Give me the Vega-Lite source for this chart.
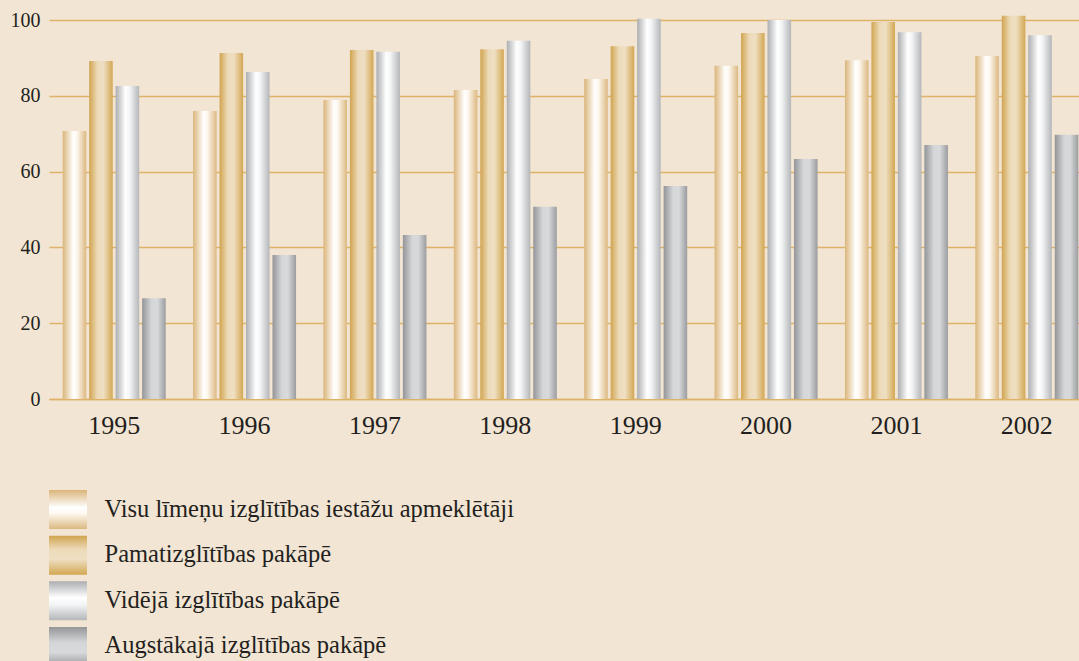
{
  "$schema": "https://vega.github.io/schema/vega-lite/v6.json",
  "background": "#f2e5d3",
  "padding": {"left": 10, "top": 10, "right": 0, "bottom": 0},
  "config": {
    "view": {"stroke": null},
    "font": "Liberation Serif",
    "axis": {"labelFont": "Liberation Serif", "labelColor": "#231f20", "titleColor": "#231f20"}
  },
  "datasets": {
    "main": [
      {"year": "1995", "series": "Visu līmeņu izglītības iestāžu apmeklētāji", "value": 70.7},
      {"year": "1995", "series": "Pamatizglītības pakāpē", "value": 89.2},
      {"year": "1995", "series": "Vidējā izglītības pakāpē", "value": 82.6},
      {"year": "1995", "series": "Augstākajā izglītības pakāpē", "value": 26.6},
      {"year": "1996", "series": "Visu līmeņu izglītības iestāžu apmeklētāji", "value": 76.0},
      {"year": "1996", "series": "Pamatizglītības pakāpē", "value": 91.3},
      {"year": "1996", "series": "Vidējā izglītības pakāpē", "value": 86.3},
      {"year": "1996", "series": "Augstākajā izglītības pakāpē", "value": 38.0},
      {"year": "1997", "series": "Visu līmeņu izglītības iestāžu apmeklētāji", "value": 78.9},
      {"year": "1997", "series": "Pamatizglītības pakāpē", "value": 92.1},
      {"year": "1997", "series": "Vidējā izglītības pakāpē", "value": 91.6},
      {"year": "1997", "series": "Augstākajā izglītības pakāpē", "value": 43.3},
      {"year": "1998", "series": "Visu līmeņu izglītības iestāžu apmeklētāji", "value": 81.5},
      {"year": "1998", "series": "Pamatizglītības pakāpē", "value": 92.3},
      {"year": "1998", "series": "Vidējā izglītības pakāpē", "value": 94.5},
      {"year": "1998", "series": "Augstākajā izglītības pakāpē", "value": 50.7},
      {"year": "1999", "series": "Visu līmeņu izglītības iestāžu apmeklētāji", "value": 84.4},
      {"year": "1999", "series": "Pamatizglītības pakāpē", "value": 93.1},
      {"year": "1999", "series": "Vidējā izglītības pakāpē", "value": 100.3},
      {"year": "1999", "series": "Augstākajā izglītības pakāpē", "value": 56.2},
      {"year": "2000", "series": "Visu līmeņu izglītības iestāžu apmeklētāji", "value": 87.9},
      {"year": "2000", "series": "Pamatizglītības pakāpē", "value": 96.6},
      {"year": "2000", "series": "Vidējā izglītības pakāpē", "value": 100.0},
      {"year": "2000", "series": "Augstākajā izglītības pakāpē", "value": 63.3},
      {"year": "2001", "series": "Visu līmeņu izglītības iestāžu apmeklētāji", "value": 89.4},
      {"year": "2001", "series": "Pamatizglītības pakāpē", "value": 99.5},
      {"year": "2001", "series": "Vidējā izglītības pakāpē", "value": 96.8},
      {"year": "2001", "series": "Augstākajā izglītības pakāpē", "value": 67.0},
      {"year": "2002", "series": "Visu līmeņu izglītības iestāžu apmeklētāji", "value": 90.5},
      {"year": "2002", "series": "Pamatizglītības pakāpē", "value": 101.1},
      {"year": "2002", "series": "Vidējā izglītības pakāpē", "value": 96.0},
      {"year": "2002", "series": "Augstākajā izglītības pakāpē", "value": 69.7}
    ],
    "legend": [
      {"series": "Visu līmeņu izglītības iestāžu apmeklētāji"},
      {"series": "Pamatizglītības pakāpē"},
      {"series": "Vidējā izglītības pakāpē"},
      {"series": "Augstākajā izglītības pakāpē"}
    ]
  },
  "spacing": 52,
  "vconcat": [
    {
      "width": 1043,
      "height": 379,
      "data": {"name": "main"},
      "encoding": {
        "x": {"field": "year", "type": "nominal", "title": null,
              "scale": {"paddingInner": 0.21, "paddingOuter": 0.105},
              "axis": {"labelAngle": 0, "labelFontSize": 26, "labelPadding": 13, "ticks": false, "domain": true, "domainColor": "#ddb266", "domainWidth": 1.5, "grid": false}},
        "xOffset": {"field": "series", "type": "nominal",
              "scale": {"domain": ["Visu līmeņu izglītības iestāžu apmeklētāji", "Pamatizglītības pakāpē", "Vidējā izglītības pakāpē", "Augstākajā izglītības pakāpē"], "paddingInner": 0.11, "paddingOuter": 0}},
        "y": {"field": "value", "type": "quantitative", "title": null,
              "scale": {"domain": [0, 100], "nice": false},
              "axis": {"values": [0, 20, 40, 60, 80, 100], "labelFontSize": 20, "labelPadding": 9, "ticks": false, "domain": false, "gridColor": "#ddb266", "gridWidth": 1.5, "gridOpacity": 1}}
      },
      "layer": [
        {"transform": [{"filter": "datum.series === 'Visu līmeņu izglītības iestāžu apmeklētāji'"}],
         "mark": {"type": "bar", "color": {"gradient": "linear", "x1": 0, "y1": 0, "x2": 1, "y2": 0,
           "stops": [{"offset": 0, "color": "#dab57a"}, {"offset": 0.45, "color": "#ffffff"}, {"offset": 0.6, "color": "#fdf8f0"}, {"offset": 1, "color": "#dcb880"}]}}},
        {"transform": [{"filter": "datum.series === 'Pamatizglītības pakāpē'"}],
         "mark": {"type": "bar", "color": {"gradient": "linear", "x1": 0, "y1": 0, "x2": 1, "y2": 0,
           "stops": [{"offset": 0, "color": "#d1a450"}, {"offset": 0.35, "color": "#ecdab8"}, {"offset": 0.6, "color": "#efdfc3"}, {"offset": 1, "color": "#d3a752"}]}}},
        {"transform": [{"filter": "datum.series === 'Vidējā izglītības pakāpē'"}],
         "mark": {"type": "bar", "color": {"gradient": "linear", "x1": 0, "y1": 0, "x2": 1, "y2": 0,
           "stops": [{"offset": 0, "color": "#acaeb1"}, {"offset": 0.42, "color": "#ffffff"}, {"offset": 0.6, "color": "#f3f4f5"}, {"offset": 1, "color": "#b4b6b9"}]}}},
        {"transform": [{"filter": "datum.series === 'Augstākajā izglītības pakāpē'"}],
         "mark": {"type": "bar", "color": {"gradient": "linear", "x1": 0, "y1": 0, "x2": 1, "y2": 0,
           "stops": [{"offset": 0, "color": "#939598"}, {"offset": 0.4, "color": "#d5d6d8"}, {"offset": 0.65, "color": "#d8d9db"}, {"offset": 1, "color": "#9a9c9f"}]}}}
      ]
    },
    {
      "width": 38,
      "height": 176,
      "data": {"name": "legend"},
      "encoding": {
        "y": {"field": "series", "type": "nominal", "title": null,
              "scale": {"domain": ["Visu līmeņu izglītības iestāžu apmeklētāji", "Pamatizglītības pakāpē", "Vidējā izglītības pakāpē", "Augstākajā izglītības pakāpē"], "paddingInner": 0.143, "paddingOuter": 0},
              "axis": {"orient": "right", "labelFontSize": 24.5, "labelPadding": 17, "ticks": false, "domain": false, "grid": false, "labelLimit": 0}}
      },
      "layer": [
        {"transform": [{"filter": "datum.series === 'Visu līmeņu izglītības iestāžu apmeklētāji'"}],
         "mark": {"type": "rect", "color": {"gradient": "linear", "x1": 0, "y1": 0, "x2": 0, "y2": 1,
           "stops": [{"offset": 0, "color": "#dab57a"}, {"offset": 0.45, "color": "#ffffff"}, {"offset": 0.6, "color": "#fdf8f0"}, {"offset": 1, "color": "#dcb880"}]}}},
        {"transform": [{"filter": "datum.series === 'Pamatizglītības pakāpē'"}],
         "mark": {"type": "rect", "color": {"gradient": "linear", "x1": 0, "y1": 0, "x2": 0, "y2": 1,
           "stops": [{"offset": 0, "color": "#d1a450"}, {"offset": 0.35, "color": "#ecdab8"}, {"offset": 0.6, "color": "#efdfc3"}, {"offset": 1, "color": "#d3a752"}]}}},
        {"transform": [{"filter": "datum.series === 'Vidējā izglītības pakāpē'"}],
         "mark": {"type": "rect", "color": {"gradient": "linear", "x1": 0, "y1": 0, "x2": 0, "y2": 1,
           "stops": [{"offset": 0, "color": "#acaeb1"}, {"offset": 0.42, "color": "#ffffff"}, {"offset": 0.6, "color": "#f3f4f5"}, {"offset": 1, "color": "#b4b6b9"}]}}},
        {"transform": [{"filter": "datum.series === 'Augstākajā izglītības pakāpē'"}],
         "mark": {"type": "rect", "color": {"gradient": "linear", "x1": 0, "y1": 0, "x2": 0, "y2": 1,
           "stops": [{"offset": 0, "color": "#939598"}, {"offset": 0.4, "color": "#d5d6d8"}, {"offset": 0.65, "color": "#d8d9db"}, {"offset": 1, "color": "#9a9c9f"}]}}}
      ]
    }
  ]
}
